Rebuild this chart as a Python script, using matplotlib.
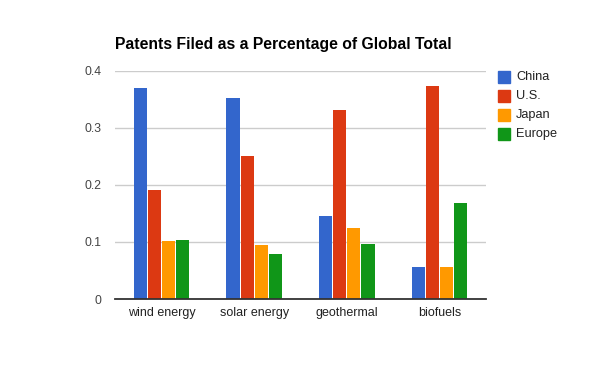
import matplotlib
matplotlib.use("Agg")
import matplotlib.pyplot as plt
import numpy as np

categories = ["wind energy", "solar energy", "geothermal", "biofuels"]
series_names = ["China", "U.S.", "Japan", "Europe"]
china = [0.371, 0.353, 0.146, 0.056]
us = [0.192, 0.251, 0.332, 0.374]
japan = [0.102, 0.094, 0.125, 0.056]
europe = [0.104, 0.079, 0.097, 0.169]
colors = ["#3366cc", "#dc3912", "#ff9900", "#109618"]
yticks = [0, 0.1, 0.2, 0.3, 0.4]
ytick_labels = ["0", "0.1", "0.2", "0.3", "0.4"]

font = ["Liberation Sans", "DejaVu Sans"]
plt.rcParams["font.family"] = font

fig = plt.figure(figsize=(6, 3.71), dpi=100)
W, H = 600, 371
ax = fig.add_axes([115 / W, (H - 299) / H, (486 - 115) / W, (299 - 71) / H])

x = np.arange(len(categories))
slot = 14 / 92
bw = 13 / 92
all_series = [china, us, japan, europe]
for i, (vals, c) in enumerate(zip(all_series, colors)):
    off = (i - 1.5) * slot
    ax.bar(x + off, vals, width=bw, color=c, zorder=3, linewidth=0)

ax.set_xlim(-0.5, len(categories) - 0.5)
ax.set_ylim(0, 0.4)
ax.set_yticks(yticks)
ax.set_yticklabels(ytick_labels)
ax.set_xticks(x)
ax.set_xticklabels(categories)
ax.grid(axis="y", color="#cccccc", linewidth=1, zorder=0)
ax.set_axisbelow(True)
for s in ["top", "right", "left"]:
    ax.spines[s].set_visible(False)
ax.spines["bottom"].set_color("#333333")
ax.spines["bottom"].set_linewidth(1.3)
ax.spines["bottom"].set_zorder(4)
ax.tick_params(axis="x", length=0, labelsize=9, colors="#222222", pad=6)
ax.tick_params(axis="y", length=0, labelsize=8.7, colors="#444444", pad=9.5)

fig.text(115 / W, 1 - 45 / H, "Patents Filed as a Percentage of Global Total",
         fontsize=11.3, fontweight="bold", ha="left", va="center", color="#000000")

# legend
for i, (name, c) in enumerate(zip(series_names, colors)):
    yc = 1 - (77 + 19 * i) / H
    fig.patches.append(plt.Rectangle((498 / W, yc - 6 / H), 12 / W, 12 / H,
                                     transform=fig.transFigure, color=c, figure=fig))
    fig.text(516 / W, yc, name, fontsize=9.2, ha="left", va="center", color="#222222")

fig.savefig("out.png", dpi=100)
